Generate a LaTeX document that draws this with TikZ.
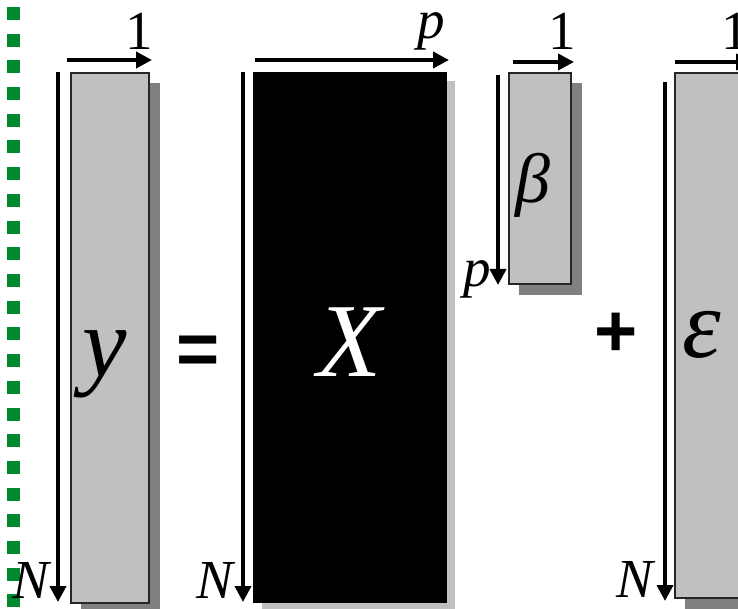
\documentclass[tikz,border=0pt]{standalone}
\usepackage{fontspec}
\setmainfont{Liberation Serif}
\newfontfamily\symfont{Liberation Sans}
\usetikzlibrary{arrows.meta}
\definecolor{dotgreen}{RGB}{0,136,46}
\definecolor{boxgray}{RGB}{192,192,192}
\definecolor{shadowgray}{RGB}{128,128,128}
\tikzset{
  dimarrow/.style={line width=3.8pt,-{Triangle[length=16pt,width=16pt]}},
  vecbox/.style={draw=black!85,line width=1.6pt,fill=boxgray},
  lbl/.style={inner sep=0pt,anchor=base,font=\fontsize{55}{55}\selectfont\itshape},
  bigsym/.style={inner sep=0pt,font=\symfont\bfseries\fontsize{74}{74}\selectfont}
}
\begin{document}
\begin{tikzpicture}[x=1pt,y=-1pt]
\useasboundingbox (0,0) rectangle (738,609);
\clip (0,0) rectangle (738,609);
% green dotted line
\draw[dotgreen,line width=13pt,dash pattern=on 13pt off 13.7pt] (13.5,7) -- (13.5,609);

% ---- y vector ----
\fill[shadowgray] (81,83) rectangle (160,613);
\node[vecbox,anchor=north west,minimum width=78pt,minimum height=530pt,inner sep=0pt] (ybox) at (70,72) {};
\node[inner sep=0pt,font=\fontsize{100}{100}\selectfont\itshape] (ylab) at (105,364) {y};
\coordinate (ya1) at (67,60); \coordinate (ya2) at (152,60);
\coordinate (yb1) at (58,72); \coordinate (yb2) at (58,602);
\draw[dimarrow] (ya1) -- (ya2);
\draw[dimarrow] (yb1) -- (yb2);
\node[lbl] (yone) at (139,50) {\upshape 1};
\node[lbl] (yN) at (31,598) {N};

% ---- equals ----
\node[bigsym] (eq) at (198,355) {=};

% ---- X matrix ----
\fill[boxgray] (262,81) rectangle (455,613);
\node[draw=black,fill=black,line width=1.2pt,anchor=north west,minimum width=193pt,minimum height=530pt,inner sep=0pt] (xbox) at (253,72) {};
\node[inner sep=0pt,text=white,font=\fontsize{105}{105}\selectfont\itshape] (xlab) at (350,342) {X};
\coordinate (xa1) at (255,60); \coordinate (xa2) at (449,60);
\coordinate (xb1) at (243,72); \coordinate (xb2) at (243,602);
\draw[dimarrow] (xa1) -- (xa2);
\draw[dimarrow] (xb1) -- (xb2);
\node[lbl] (xp) at (431,39) {p};
\node[lbl] (xN) at (215,598) {N};

% ---- beta vector ----
\fill[shadowgray] (519,83) rectangle (582,295);
\node[vecbox,anchor=north west,minimum width=62pt,minimum height=211pt,inner sep=0pt] (bbox) at (508,72) {};
\node[inner sep=0pt,font=\fontsize{70}{70}\selectfont\itshape] (blab) at (533,185) {β};
\coordinate (ba1) at (513,62); \coordinate (ba2) at (574,62);
\coordinate (bb1) at (498,75); \coordinate (bb2) at (498,285);
\draw[dimarrow] (ba1) -- (ba2);
\draw[dimarrow] (bb1) -- (bb2);
\node[lbl] (bone) at (562,50) {\upshape 1};
\node[lbl] (bp) at (477,287) {p};

% ---- plus ----
\node[bigsym] (plus) at (616,335) {+};

% ---- epsilon vector ----
\fill[shadowgray] (685,83) rectangle (760,613);
\node[vecbox,anchor=north west,minimum width=80pt,minimum height=525pt,inner sep=0pt] (ebox) at (674,72) {};
\node[inner sep=0pt,font=\fontsize{98}{98}\selectfont\itshape] (elab) at (702,335) {ε};
\coordinate (ea1) at (675,62); \coordinate (ea2) at (752,62);
\coordinate (eb1) at (665,82); \coordinate (eb2) at (665,601);
\draw[dimarrow] (ea1) -- (ea2);
\draw[dimarrow] (eb1) -- (eb2);
\node[lbl] (eone) at (735,50) {\upshape 1};
\node[lbl] (eN) at (635,597) {N};
\end{tikzpicture}
\end{document}
